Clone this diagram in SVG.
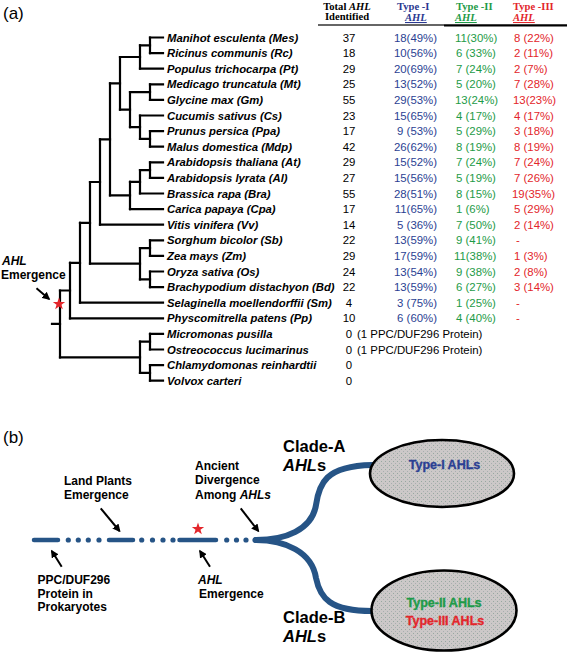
<svg xmlns="http://www.w3.org/2000/svg" width="567" height="653" viewBox="0 0 567 653">
<style>
.nm{font-family:"Liberation Sans",Arial,sans-serif;font-size:11.3px;font-weight:bold;font-style:italic;fill:#000}
.v{font-family:"Liberation Sans",Arial,sans-serif;font-size:11.4px;}
.tot{fill:#000;text-anchor:middle}
.t1{fill:#2b3f93;text-anchor:end}
.t2{fill:#1e9b48}
.t3{fill:#e3262b}
.hd{font-family:"Liberation Serif","Times New Roman",serif;font-size:10.6px;font-weight:bold}
.lb{font-family:"Liberation Sans",Arial,sans-serif;font-size:12px;font-weight:bold;fill:#000}
.cl{font-family:"Liberation Sans",Arial,sans-serif;font-size:16.5px;font-weight:bold;fill:#000}
.el{font-family:"Liberation Sans",Arial,sans-serif;font-size:12.5px;font-weight:900;text-anchor:middle;stroke-width:0.35}
.tree{fill:none;stroke:#000;stroke-width:2.2;stroke-linecap:square}
.arr{fill:none;stroke:#000;stroke-width:2;marker-end:url(#ah)}
.tl{stroke:#265486;stroke-width:4.5;stroke-linecap:round;fill:none}
.dot{fill:#265486}
.br{stroke:#265486;stroke-width:6;fill:none;stroke-linecap:round}
.star{fill:#e3262b}
</style>
<defs>
<marker id="ah" viewBox="0 0 10 10" refX="8" refY="5" markerWidth="4" markerHeight="4" orient="auto"><path d="M0,0 L10,5 L0,10 z" fill="#000"/></marker>
<polygon id="st" points="0,-6.5 1.53,-2.1 6.18,-2.01 2.47,0.8 3.82,5.26 0,2.6 -3.82,5.26 -2.47,0.8 -6.18,-2.01 -1.53,-2.1"/>
<pattern id="speck" width="4" height="4" patternUnits="userSpaceOnUse"><rect width="4" height="4" fill="#ccc8c8"/><rect x="1" y="1" width="1" height="1" fill="#97a8a0"/><rect x="3" y="3" width="1" height="1" fill="#a8aeb0"/></pattern>
</defs>
<rect width="567" height="653" fill="#fff"/>

<!-- panel labels -->
<text x="3" y="19" font-family="Liberation Sans,Arial,sans-serif" font-size="17">(a)</text>
<text x="3" y="443" font-family="Liberation Sans,Arial,sans-serif" font-size="17">(b)</text>

<!-- table header -->
<g id="header">
<text class="hd" x="347" y="10" text-anchor="middle">Total <tspan font-style="italic">AHL</tspan></text>
<text class="hd" x="347" y="19.5" text-anchor="middle">Identified</text>
<text class="hd" x="397" y="10" fill="#2b3990">Type -I</text>
<text class="hd" x="405" y="21" fill="#2b3990" font-style="italic" text-decoration="underline">AHL</text>
<text class="hd" x="456" y="10" fill="#1e9b48">Type -II</text>
<text class="hd" x="455" y="21" fill="#1e9b48" font-style="italic" text-decoration="underline">AHL</text>
<text class="hd" x="513" y="10" fill="#e3262b">Type -III</text>
<text class="hd" x="513" y="21" fill="#e3262b" font-style="italic" text-decoration="underline">AHL</text>
<line x1="318" y1="25" x2="444" y2="25" stroke="#333" stroke-width="1.6"/>
<line x1="444" y1="25.3" x2="567" y2="25.3" stroke="#000" stroke-width="2.2"/>
</g>

<!-- tree connectors -->
<g id="connectors">
<path class="tree" d="M150 37.5H163M150 53.1H163M140 68.7H163M150 84.3H163M150 99.9H163M140 115.5H163M150 131.1H163M150 146.7H163M150 162.3H163M150 177.9H163M140 193.5H163M130 209.1H163M100 224.7H163M150 240.3H163M150 255.9H163M150 271.5H163M150 287.1H163M80 302.7H163M70 318.3H163M150 333.9H163M150 349.5H163M150 365.1H163M150 380.7H163"/>
<path class="tree" d="M150 37.5V53.1M140 45.3V68.7M150 84.3V99.9M150 131.1V146.7M140 115.5V138.9M130 92.1V127.2M120 57V109.65M150 162.3V177.9M140 170.1V193.5M130 181.8V209.1M110 83.3V195.45M100 139.4V224.7M150 240.3V255.9M150 271.5V287.1M140 248.1V279.3M90 182V263.7M80 222.9V302.7M70 262.8V318.3M150 333.9V349.5M150 365.1V380.7M140 341.7V372.9M60 290.5V357.3"/>
<path class="tree" d="M140 45.3H150M120 57H140M130 92.1H150M140 138.9H150M130 127.2H140M120 109.65H130M110 83.3H120M140 170.1H150M130 181.8H140M110 195.45H130M100 139.4H110M90 182H100M140 248.1H150M140 279.3H150M90 263.7H140M80 222.9H90M70 262.8H80M60 290.5H70M140 341.7H150M140 372.9H150M60 357.3H140M52 323.9H60"/>
<path class="arr" d="M36.5 288.3L49 299"/>
</g>

<g id="ahl-emergence-a">
<text class="lb" x="2" y="265" font-size="11.8"><tspan font-style="italic">AHL</tspan></text>
<text class="lb" x="1" y="278.5" font-size="11.8">Emergence</text>
<use href="#st" x="59" y="304" class="star"/>
</g>

<!-- rows -->
<g id="Mes"><text class="nm" x="167" y="41.5">Manihot esculenta (Mes)</text><text class="v tot" x="349" y="41.5">37</text><text class="v t1" x="437" y="41.5">18(49%)</text><text class="v t2" x="455" y="41.5">11(30%)</text><text class="v t3" x="514" y="41.5">8 (22%)</text></g>
<g id="Rc"><text class="nm" x="167" y="57.1">Ricinus communis (Rc)</text><text class="v tot" x="349" y="57.1">18</text><text class="v t1" x="437" y="57.1">10(56%)</text><text class="v t2" x="456" y="57.1">6 (33%)</text><text class="v t3" x="514" y="57.1">2 (11%)</text></g>
<g id="Pt"><text class="nm" x="167" y="72.7">Populus trichocarpa (Pt)</text><text class="v tot" x="349" y="72.7">29</text><text class="v t1" x="437" y="72.7">20(69%)</text><text class="v t2" x="456" y="72.7">7 (24%)</text><text class="v t3" x="514" y="72.7">2 (7%)</text></g>
<g id="Mt"><text class="nm" x="167" y="88.3">Medicago truncatula (Mt)</text><text class="v tot" x="349" y="88.3">25</text><text class="v t1" x="437" y="88.3">13(52%)</text><text class="v t2" x="456" y="88.3">5 (20%)</text><text class="v t3" x="514" y="88.3">7 (28%)</text></g>
<g id="Gm"><text class="nm" x="167" y="103.9">Glycine max (Gm)</text><text class="v tot" x="349" y="103.9">55</text><text class="v t1" x="437" y="103.9">29(53%)</text><text class="v t2" x="455" y="103.9">13(24%)</text><text class="v t3" x="513" y="103.9">13(23%)</text></g>
<g id="Cs"><text class="nm" x="167" y="119.5">Cucumis sativus (Cs)</text><text class="v tot" x="349" y="119.5">23</text><text class="v t1" x="437" y="119.5">15(65%)</text><text class="v t2" x="456" y="119.5">4 (17%)</text><text class="v t3" x="514" y="119.5">4 (17%)</text></g>
<g id="Ppa"><text class="nm" x="167" y="135.1">Prunus persica (Ppa)</text><text class="v tot" x="349" y="135.1">17</text><text class="v t1" x="437" y="135.1">9 (53%)</text><text class="v t2" x="456" y="135.1">5 (29%)</text><text class="v t3" x="514" y="135.1">3 (18%)</text></g>
<g id="Mdp"><text class="nm" x="167" y="150.7">Malus domestica (Mdp)</text><text class="v tot" x="349" y="150.7">42</text><text class="v t1" x="437" y="150.7">26(62%)</text><text class="v t2" x="456" y="150.7">8 (19%)</text><text class="v t3" x="514" y="150.7">8 (19%)</text></g>
<g id="At"><text class="nm" x="167" y="166.3">Arabidopsis thaliana (At)</text><text class="v tot" x="349" y="166.3">29</text><text class="v t1" x="437" y="166.3">15(52%)</text><text class="v t2" x="456" y="166.3">7 (24%)</text><text class="v t3" x="514" y="166.3">7 (24%)</text></g>
<g id="Al"><text class="nm" x="167" y="181.9">Arabidopsis lyrata (Al)</text><text class="v tot" x="349" y="181.9">27</text><text class="v t1" x="437" y="181.9">15(56%)</text><text class="v t2" x="456" y="181.9">5 (19%)</text><text class="v t3" x="514" y="181.9">7 (26%)</text></g>
<g id="Bra"><text class="nm" x="167" y="197.5">Brassica rapa (Bra)</text><text class="v tot" x="349" y="197.5">55</text><text class="v t1" x="437" y="197.5">28(51%)</text><text class="v t2" x="456" y="197.5">8 (15%)</text><text class="v t3" x="512" y="197.5">19(35%)</text></g>
<g id="Cpa"><text class="nm" x="167" y="213.1">Carica papaya (Cpa)</text><text class="v tot" x="349" y="213.1">17</text><text class="v t1" x="437" y="213.1">11(65%)</text><text class="v t2" x="456" y="213.1">1 (6%)</text><text class="v t3" x="514" y="213.1">5 (29%)</text></g>
<g id="Vv"><text class="nm" x="167" y="228.7">Vitis vinifera (Vv)</text><text class="v tot" x="349" y="228.7">14</text><text class="v t1" x="437" y="228.7">5 (36%)</text><text class="v t2" x="456" y="228.7">7 (50%)</text><text class="v t3" x="514" y="228.7">2 (14%)</text></g>
<g id="Sb"><text class="nm" x="167" y="244.3">Sorghum bicolor (Sb)</text><text class="v tot" x="349" y="244.3">22</text><text class="v t1" x="437" y="244.3">13(59%)</text><text class="v t2" x="456" y="244.3">9 (41%)</text><text class="v t3" x="516" y="244.3">-</text></g>
<g id="Zm"><text class="nm" x="167" y="259.9">Zea mays (Zm)</text><text class="v tot" x="349" y="259.9">29</text><text class="v t1" x="437" y="259.9">17(59%)</text><text class="v t2" x="454" y="259.9">11(38%)</text><text class="v t3" x="514" y="259.9">1 (3%)</text></g>
<g id="Os"><text class="nm" x="167" y="275.5">Oryza sativa (Os)</text><text class="v tot" x="349" y="275.5">24</text><text class="v t1" x="437" y="275.5">13(54%)</text><text class="v t2" x="456" y="275.5">9 (38%)</text><text class="v t3" x="514" y="275.5">2 (8%)</text></g>
<g id="Bd"><text class="nm" x="167" y="291.1">Brachypodium distachyon (Bd)</text><text class="v tot" x="349" y="291.1">22</text><text class="v t1" x="437" y="291.1">13(59%)</text><text class="v t2" x="456" y="291.1">6 (27%)</text><text class="v t3" x="514" y="291.1">3 (14%)</text></g>
<g id="Sm"><text class="nm" x="167" y="306.7">Selaginella moellendorffii (Sm)</text><text class="v tot" x="349" y="306.7">4</text><text class="v t1" x="437" y="306.7">3 (75%)</text><text class="v t2" x="456" y="306.7">1 (25%)</text><text class="v t3" x="516" y="306.7">-</text></g>
<g id="Pp"><text class="nm" x="167" y="322.3">Physcomitrella patens (Pp)</text><text class="v tot" x="349" y="322.3">10</text><text class="v t1" x="437" y="322.3">6 (60%)</text><text class="v t2" x="456" y="322.3">4 (40%)</text><text class="v t3" x="516" y="322.3">-</text></g>
<g id="Mic"><text class="nm" x="167" y="337.9">Micromonas pusilla</text><text class="v tot" x="349" y="337.9">0</text><text class="v" x="357" y="337.9">(1 PPC/DUF296 Protein)</text></g>
<g id="Ost"><text class="nm" x="167" y="353.5">Ostreococcus lucimarinus</text><text class="v tot" x="349" y="353.5">0</text><text class="v" x="357" y="353.5">(1 PPC/DUF296 Protein)</text></g>
<g id="Chl"><text class="nm" x="167" y="369.1">Chlamydomonas reinhardtii</text><text class="v tot" x="349" y="369.1">0</text></g>
<g id="Vol"><text class="nm" x="167" y="384.7">Volvox carteri</text><text class="v tot" x="349" y="384.7">0</text></g>

<!-- panel b -->
<g id="timeline">
<path class="tl" d="M34 540H58M109 540H133M179.5 540H216"/>
<circle class="dot" cx="68.3" cy="540" r="2.6"/><circle class="dot" cx="78.3" cy="540" r="2.6"/><circle class="dot" cx="88.3" cy="540" r="2.6"/><circle class="dot" cx="99" cy="540" r="2.6"/>
<circle class="dot" cx="141.7" cy="540" r="2.6"/><circle class="dot" cx="152.5" cy="540" r="2.6"/><circle class="dot" cx="163" cy="540" r="2.6"/><circle class="dot" cx="173" cy="540" r="2.6"/>
<circle class="dot" cx="226.7" cy="540" r="2.6"/><circle class="dot" cx="236.5" cy="540" r="2.6"/><circle class="dot" cx="246" cy="540" r="2.6"/><circle class="dot" cx="255" cy="540" r="2.6"/>
<use href="#st" x="198" y="529" class="star"/>
</g>
<g id="branches">
<path class="br" d="M256 540C285 540 312 530 316 505C319 484 325 466 372 465"/>
<path class="br" d="M256 540C285 540 312 552 316 578C320 598 330 611 372 611"/>
</g>
<g id="arrows-b">
<path class="arr" d="M100.7 508.3L119.5 531"/>
<path class="arr" d="M240.7 508.3L258.3 531"/>
<path class="arr" d="M61.7 566.7L51.8 551"/>
<path class="arr" d="M210 566.7L200 551"/>
</g>
<g id="label-land">
<text class="lb" x="64" y="484.5">Land Plants</text>
<text class="lb" x="64" y="499">Emergence</text>
</g>
<g id="label-ancient">
<text class="lb" x="195" y="469.5">Ancient</text>
<text class="lb" x="195" y="484">Divergence</text>
<text class="lb" x="195" y="498.5">Among <tspan font-style="italic">AHLs</tspan></text>
</g>
<g id="label-ppc">
<text class="lb" x="37.5" y="583.5">PPC/DUF296</text>
<text class="lb" x="37.5" y="597.5">Protein in</text>
<text class="lb" x="37.5" y="611">Prokaryotes</text>
</g>
<g id="label-ahl-b">
<text class="lb" x="198" y="583.5" font-style="italic">AHL</text>
<text class="lb" x="199" y="597.5">Emergence</text>
</g>
<g id="clade-a">
<text class="cl" x="283" y="452.3">Clade-A</text>
<text class="cl" x="283" y="470.7"><tspan font-style="italic">AHL</tspan>s</text>
<ellipse cx="442" cy="473.5" rx="72" ry="33.5" fill="url(#speck)" stroke="#000" stroke-width="2.6"/>
<text class="el" x="444.5" y="469" fill="#2b3f93" stroke="#2b3f93">Type-I AHLs</text>
</g>
<g id="clade-b">
<text class="cl" x="283" y="623.3">Clade-B</text>
<text class="cl" x="283" y="641.7"><tspan font-style="italic">AHL</tspan>s</text>
<ellipse cx="444" cy="610.5" rx="72.5" ry="40" fill="url(#speck)" stroke="#000" stroke-width="2.6"/>
<text class="el" x="444" y="607.3" fill="#1e9b48" stroke="#1e9b48">Type-II AHLs</text>
<text class="el" x="445" y="625" fill="#e3262b" stroke="#e3262b">Type-III AHLs</text>
</g>
</svg>
